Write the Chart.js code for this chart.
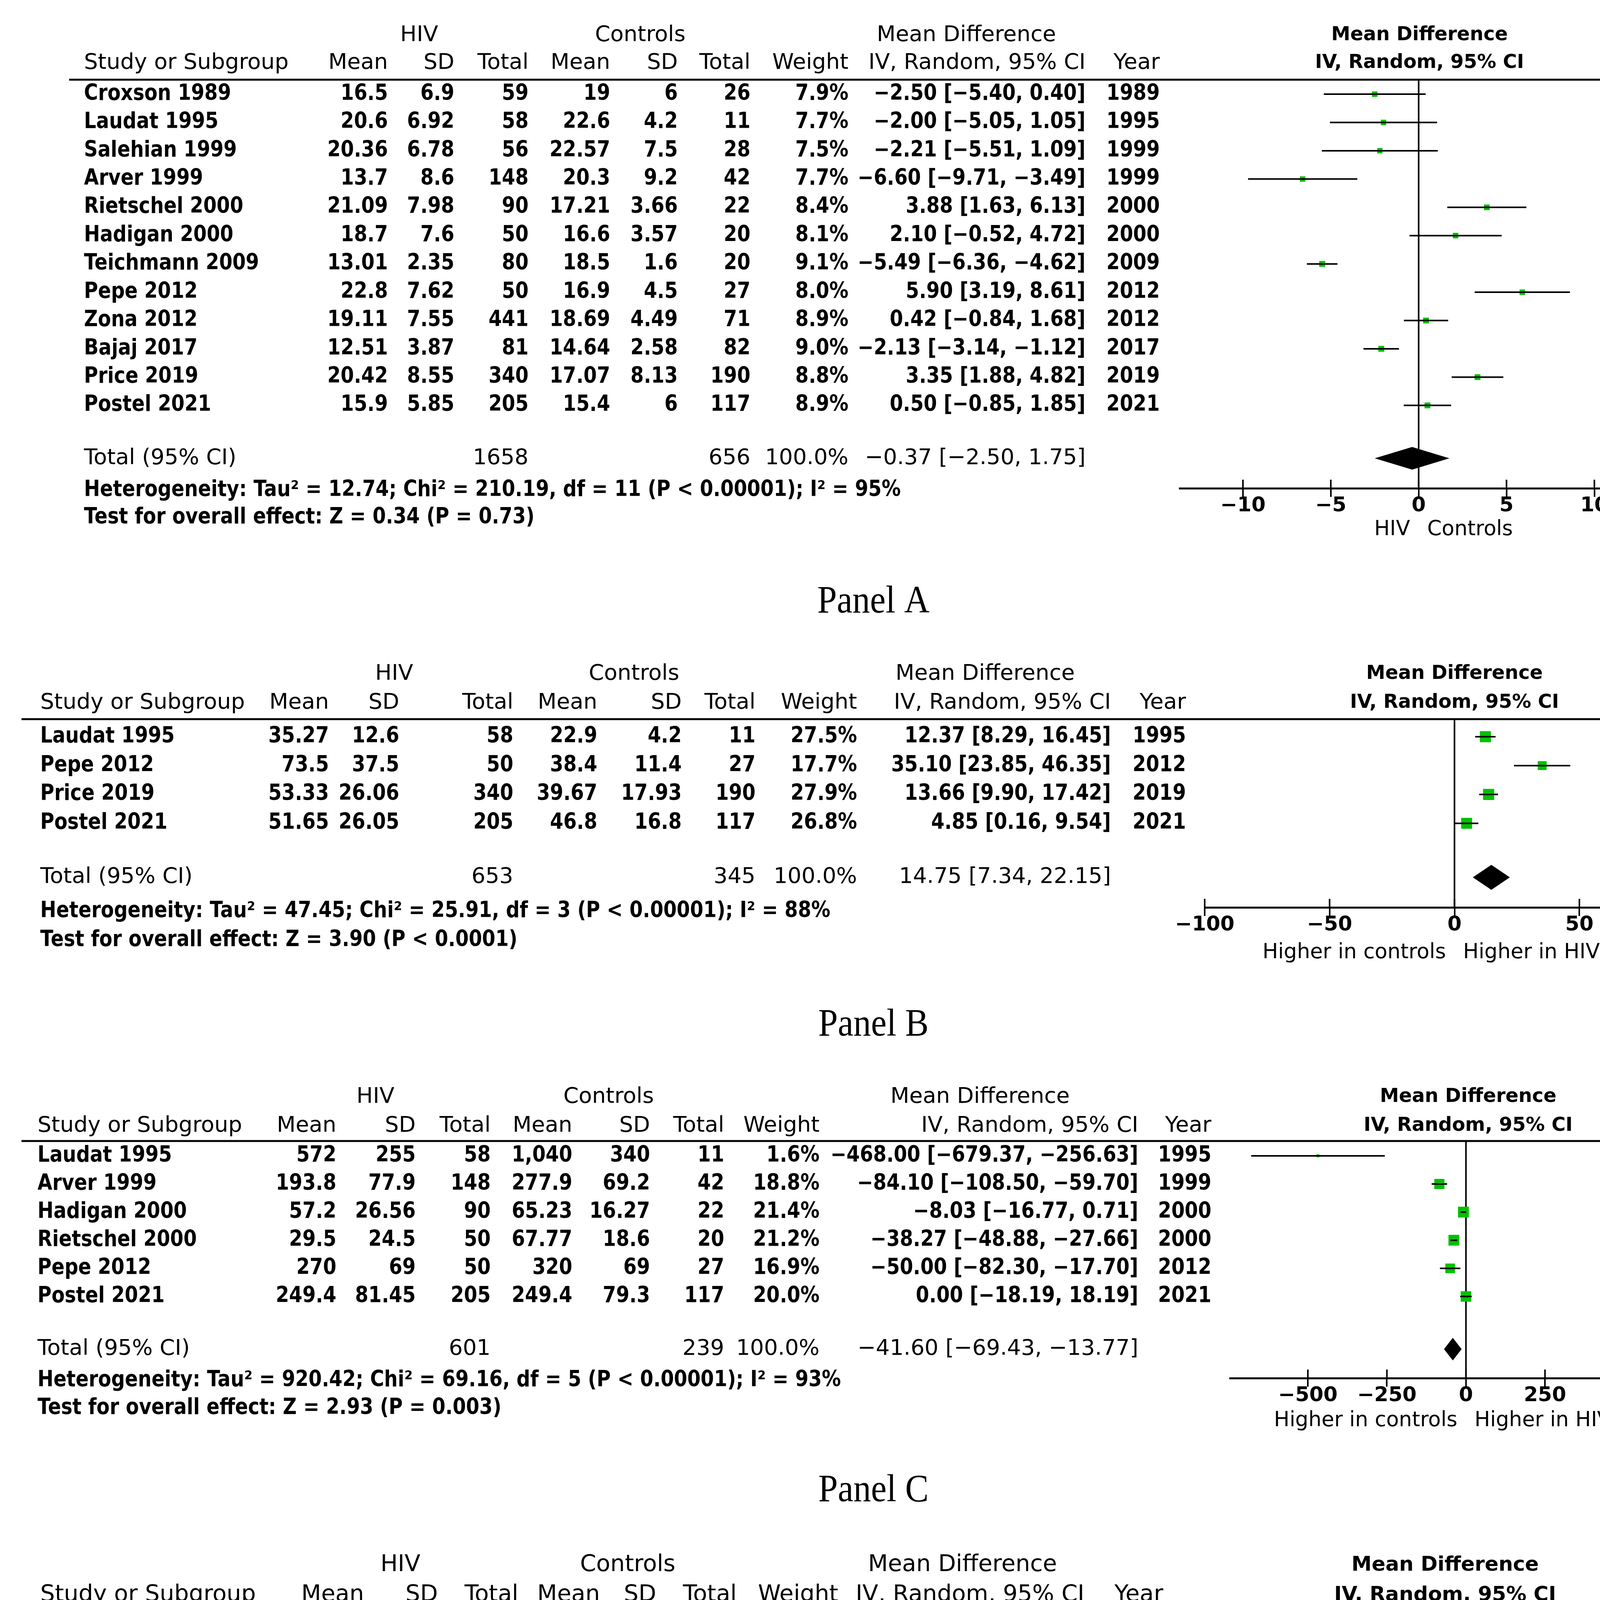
<!DOCTYPE html>
<html>
<head>
<meta charset="utf-8">
<script src="https://cdn.jsdelivr.net/npm/chart.js@4.4.1/dist/chart.umd.min.js"></script>
<style>
  html, body { margin: 0; padding: 0; background: #fff; }
  #wrap { position: relative; width: 4488px; height: 5032px; }
  canvas { position: absolute; left: 0; }
</style>
</head>
<body>
<div id="wrap">
  <canvas id="panelA"></canvas>
  <canvas id="panelB"></canvas>
  <canvas id="panelC"></canvas>
  <canvas id="panelD"></canvas>
</div>
<script>
// ---- Panel A ----
const studiesA = ['Croxson 1989', 'Laudat 1995', 'Salehian 1999', 'Arver 1999', 'Rietschel 2000', 'Hadigan 2000',
  'Teichmann 2009', 'Pepe 2012', 'Zona 2012', 'Bajaj 2017', 'Price 2019', 'Postel 2021'];
const hivMeanA = [16.5, 20.6, 20.36, 13.7, 21.09, 18.7, 13.01, 22.8, 19.11, 12.51, 20.42, 15.9];
const hivSdA = [6.9, 6.92, 6.78, 8.6, 7.98, 7.6, 2.35, 7.62, 7.55, 3.87, 8.55, 5.85];
const hivNA = [59, 58, 56, 148, 90, 50, 80, 50, 441, 81, 340, 205];
const ctlMeanA = [19, 22.6, 22.57, 20.3, 17.21, 16.6, 18.5, 16.9, 18.69, 14.64, 17.07, 15.4];
const ctlSdA = [6, 4.2, 7.5, 9.2, 3.66, 3.57, 1.6, 4.5, 4.49, 2.58, 8.13, 6];
const ctlNA = [26, 11, 28, 42, 22, 20, 20, 27, 71, 82, 190, 117];
const weightA = [7.9, 7.7, 7.5, 7.7, 8.4, 8.1, 9.1, 8.0, 8.9, 9.0, 8.8, 8.9];
const mdA = [-2.50, -2.00, -2.21, -6.60, 3.88, 2.10, -5.49, 5.90, 0.42, -2.13, 3.35, 0.50];
const loA = [-5.40, -5.05, -5.51, -9.71, 1.63, -0.52, -6.36, 3.19, -0.84, -3.14, 1.88, -0.85];
const hiA = [0.40, 1.05, 1.09, -3.49, 6.13, 4.72, -4.62, 8.61, 1.68, -1.12, 4.82, 1.85];
const yearA = [1989, 1995, 1999, 1999, 2000, 2000, 2009, 2012, 2012, 2017, 2019, 2021];
const totalNA = [1658, 656];
const pooledA = [-0.37, -2.50, 1.75];
const hetA = 'Heterogeneity: Tau² = 12.74; Chi² = 210.19, df = 11 (P < 0.00001); I² = 95%';
const testA = 'Test for overall effect: Z = 0.34 (P = 0.73)';
const ticksA = [-10, -5, 0, 5, 10];
const sidesA = ['HIV', 'Controls'];

// ---- Panel B ----
const studiesB = ['Laudat 1995', 'Pepe 2012', 'Price 2019', 'Postel 2021'];
const hivMeanB = [35.27, 73.5, 53.33, 51.65];
const hivSdB = [12.6, 37.5, 26.06, 26.05];
const hivNB = [58, 50, 340, 205];
const ctlMeanB = [22.9, 38.4, 39.67, 46.8];
const ctlSdB = [4.2, 11.4, 17.93, 16.8];
const ctlNB = [11, 27, 190, 117];
const weightB = [27.5, 17.7, 27.9, 26.8];
const mdB = [12.37, 35.10, 13.66, 4.85];
const loB = [8.29, 23.85, 9.90, 0.16];
const hiB = [16.45, 46.35, 17.42, 9.54];
const yearB = [1995, 2012, 2019, 2021];
const totalNB = [653, 345];
const pooledB = [14.75, 7.34, 22.15];
const hetB = 'Heterogeneity: Tau² = 47.45; Chi² = 25.91, df = 3 (P < 0.00001); I² = 88%';
const testB = 'Test for overall effect: Z = 3.90 (P < 0.0001)';
const ticksB = [-100, -50, 0, 50, 100];
const sidesB = ['Higher in controls', 'Higher in HIV'];

// ---- Panel C ----
const studiesC = ['Laudat 1995', 'Arver 1999', 'Hadigan 2000', 'Rietschel 2000', 'Pepe 2012', 'Postel 2021'];
const hivMeanC = [572, 193.8, 57.2, 29.5, 270, 249.4];
const hivSdC = [255, 77.9, 26.56, 24.5, 69, 81.45];
const hivNC = [58, 148, 90, 50, 50, 205];
const ctlMeanC = [1040, 277.9, 65.23, 67.77, 320, 249.4];
const ctlSdC = [340, 69.2, 16.27, 18.6, 69, 79.3];
const ctlNC = [11, 42, 22, 20, 27, 117];
const weightC = [1.6, 18.8, 21.4, 21.2, 16.9, 20.0];
const mdC = [-468.00, -84.10, -8.03, -38.27, -50.00, 0.00];
const loC = [-679.37, -108.50, -16.77, -48.88, -82.30, -18.19];
const hiC = [-256.63, -59.70, 0.71, -27.66, -17.70, 18.19];
const yearC = [1995, 1999, 2000, 2000, 2012, 2021];
const totalNC = [601, 239];
const pooledC = [-41.60, -69.43, -13.77];
const hetC = 'Heterogeneity: Tau² = 920.42; Chi² = 69.16, df = 5 (P < 0.00001); I² = 93%';
const testC = 'Test for overall effect: Z = 2.93 (P = 0.003)';
const ticksC = [-500, -250, 0, 250, 500];
const sidesC = ['Higher in controls', 'Higher in HIV'];

// ---- Panel D ----
const studiesD = ['Croxson 1989', 'Laudat 1995', 'Salehian 1999', 'Teichmann 2009'];
const hivMeanD = [13.78, 5.54, 5.52, 3.38];
const hivSdD = [6.52, 3.88, 2.8, 2.42];
const hivND = [59, 58, 56, 80];
const ctlMeanD = [12, 4.7, 4.8, 3.6];
const ctlSdD = [5, 2.8, 2.5, 2.6];
const ctlND = [26, 11, 28, 20];
const weightD = [8.7, 15.1, 40.4, 35.7];
const mdD = [1.78, 0.84, 0.72, -0.22];
const loD = [-0.76, -1.09, -0.46, -1.48];
const hiD = [4.32, 2.77, 1.90, 1.04];
const yearD = [1989, 1995, 1999, 2009];
const totalND = [253, 85];
const pooledD = [0.49, -0.26, 1.25];
const hetD = 'Heterogeneity: Tau² = 0.00; Chi² = 2.49, df = 3 (P = 0.48); I² = 0%';
const testD = 'Test for overall effect: Z = 1.29 (P = 0.20)';
const ticksD = [-4, -2, 0, 2, 4];
const sidesD = ['Higher in controls', 'Higher in HIV'];

const FONT = '"DejaVu Sans", Verdana, sans-serif';
const AXIS_H = 130;
const STRETCH = 1.15; // the bold table text is a bit taller than DejaVu

// layout of each panel (pixels, y relative to the panel top)
const layouts = {
  A: { top: 0, h: 1650, xMin: -13.6, xMax: 13.7, xLeft: 3020, xRight: 4248, lineY: 204, row0: 241, sp: 72.44,
       axisY: 1250, h1: 90, h2: 161, het: 1255, test: 1325, side: 106, cap: 1542, hx: [177, 4299],
       study: 215, cols: [993, 1163, 1353, 1562, 1735, 1921, 2172, 2779, 2969], groups: [1073, 1639, 2474],
       fs: 49, fh: 56, fa: 53, ft: 52, k: 5.0, dh: 29 },
  B: { top: 1650, h: 1100, xMin: -100, xMax: 100, xLeft: 3084, xRight: 4363, lineY: 191, row0: 236, sp: 73.9,
       axisY: 673, h1: 75, h2: 149, het: 683, test: 757, side: 116, cap: 975, hx: [55, 4411],
       study: 103, cols: [842, 1022, 1314, 1529, 1745, 1934, 2194, 2844, 3036], groups: [1009, 1623, 2522],
       fs: 49, fh: 56, fa: 53, ft: 52, k: 5.4, dh: 32 },
  C: { top: 2750, h: 1150, xMin: -746, xMax: 760, xLeft: 3149, xRight: 4368, lineY: 171, row0: 209, sp: 72.0,
       axisY: 778, h1: 58, h2: 132, het: 784, test: 855, side: 109, cap: 1067, hx: [55, 4411],
       study: 96, cols: [861, 1064, 1256, 1465, 1664, 1854, 2098, 2914, 3101], groups: [961, 1558, 2509],
       fs: 49, fh: 56, fa: 53, ft: 52, k: 6.0, dh: 29 },
  D: { top: 3900, h: 1132, xMin: -4.57, xMax: 4.59, xLeft: 3036, xRight: 4363, lineY: 225, row0: 270, sp: 78.1,
       axisY: 733, h1: 107, h2: 184, het: 736, test: 817, side: 113, cap: 1032, hx: [55, 4411],
       study: 103, cols: [932, 1121, 1327, 1536, 1680, 1886, 2146, 2776, 2978], groups: [1025, 1607, 2464],
       fs: 52, fh: 59, fa: 56, ft: 54, k: 6.4, dh: 33 }
};

function fmt(v) {
  return v.toLocaleString('en-US', { maximumFractionDigits: 2 }).replace('-', '−');
}
function fix2(v) {
  return v.toFixed(2).replace('-', '−');
}
function ci(m, l, h) {
  return fix2(m) + ' [' + fix2(l) + ', ' + fix2(h) + ']';
}

function tablePlugin(p) {
  const L = p.lay;
  return {
    id: 'table' + p.id,
    beforeDatasetsDraw(chart) {
      const { ctx, chartArea: a, scales: { x } } = chart;
      const x0 = x.getPixelForValue(0);
      ctx.save();
      ctx.strokeStyle = '#000';
      ctx.lineWidth = 4;
      ctx.beginPath();
      ctx.moveTo(x0, a.top);
      ctx.lineTo(x0, a.bottom);
      ctx.stroke();
      ctx.restore();
    },
    afterDraw(chart) {
      const { ctx, chartArea: a, scales: { x, y } } = chart;
      const n = p.studies.length;
      ctx.save();
      ctx.fillStyle = '#000';
      ctx.strokeStyle = '#000';

      // line under the column headings
      ctx.lineWidth = 5;
      ctx.beginPath();
      ctx.moveTo(L.hx[0], a.top);
      ctx.lineTo(L.hx[1], a.top);
      ctx.stroke();

      // upper half of the axis ticks
      ctx.lineWidth = 4;
      p.ticks.forEach(v => {
        const px = x.getPixelForValue(v);
        ctx.beginPath();
        ctx.moveTo(px, a.bottom - 22);
        ctx.lineTo(px, a.bottom);
        ctx.stroke();
      });

      // pooled diamond
      const ty = y.getPixelForValue(n + 0.87);
      ctx.beginPath();
      ctx.moveTo(x.getPixelForValue(p.pooled[1]), ty);
      ctx.lineTo(x.getPixelForValue(p.pooled[0]), ty - L.dh);
      ctx.lineTo(x.getPixelForValue(p.pooled[2]), ty);
      ctx.lineTo(x.getPixelForValue(p.pooled[0]), ty + L.dh);
      ctx.closePath();
      ctx.fill();

      ctx.textBaseline = 'middle';
      const put = (s, px, py, align, font, sy) => {
        ctx.save();
        ctx.font = font;
        ctx.textAlign = align;
        ctx.translate(px, py);
        ctx.scale(1, sy || 1);
        ctx.fillText(s, 0, 0);
        ctx.restore();
      };
      const fHead = 'normal ' + L.fh + 'px ' + FONT;
      const fData = 'bold ' + L.fs + 'px ' + FONT;
      const fAxis = 'normal ' + L.fa + 'px ' + FONT;
      const c = L.cols;
      const mid = (a.left + a.right) / 2;

      // headings
      put('HIV', L.groups[0], L.h1, 'center', fHead);
      put('Controls', L.groups[1], L.h1, 'center', fHead);
      put('Mean Difference', L.groups[2], L.h1, 'center', fHead);
      put('Study or Subgroup', L.study, L.h2, 'left', fHead);
      ['Mean', 'SD', 'Total', 'Mean', 'SD', 'Total', 'Weight', 'IV, Random, 95% CI', 'Year']
        .forEach((s, j) => put(s, c[j], L.h2, 'right', fHead));
      put('Mean Difference', mid, L.h1, 'center', fData);
      put('IV, Random, 95% CI', mid, L.h2, 'center', fData);

      // study rows
      p.studies.forEach((s, i) => {
        const py = y.getPixelForValue(i);
        put(s, L.study, py, 'left', fData, STRETCH);
        const cells = [fmt(p.hivMean[i]), fmt(p.hivSd[i]), String(p.hivN[i]),
          fmt(p.ctlMean[i]), fmt(p.ctlSd[i]), String(p.ctlN[i]),
          p.weight[i].toFixed(1) + '%', ci(p.md[i], p.lo[i], p.hi[i]), String(p.year[i])];
        cells.forEach((t, j) => put(t, c[j], py, 'right', fData, STRETCH));
      });

      // total row
      put('Total (95% CI)', L.study, ty, 'left', fHead);
      put(String(p.totalN[0]), c[2], ty, 'right', fHead);
      put(String(p.totalN[1]), c[5], ty, 'right', fHead);
      put('100.0%', c[6], ty, 'right', fHead);
      put(ci(p.pooled[0], p.pooled[1], p.pooled[2]), c[7], ty, 'right', fHead);

      put(p.het, L.study, L.het, 'left', fData, STRETCH);
      put(p.test, L.study, L.test, 'left', fData, STRETCH);

      // direction labels under the axis
      const x0 = x.getPixelForValue(0);
      put(p.sides[0], x0 - 22, a.bottom + L.side, 'right', fAxis);
      put(p.sides[1], x0 + 22, a.bottom + L.side, 'left', fAxis);

      // caption
      put('Panel ' + p.id, 2236, L.cap, 'center', 'normal 90px "Liberation Serif", "Times New Roman", serif', 1.1);
      ctx.restore();
    }
  };
}

function makeChart(p) {
  const L = p.lay;
  const canvas = document.getElementById('panel' + p.id);
  canvas.width = 4488;
  canvas.height = L.h;
  canvas.style.top = L.top + 'px';
  const yMin = -(L.row0 - L.lineY) / L.sp;
  const yMax = (L.axisY - L.row0) / L.sp;

  // confidence interval whiskers
  const datasets = p.lo.map((lo, i) => ({
    type: 'scatter',
    data: [{ x: lo, y: i }, { x: p.hi[i], y: i }],
    showLine: true,
    borderColor: '#000',
    borderWidth: 4,
    pointRadius: 0,
    fill: false
  }));
  // study estimates, square area follows the weight
  datasets.push({
    type: 'scatter',
    data: p.md.map((m, i) => ({ x: m, y: i })),
    pointStyle: 'rect',
    pointRadius: p.weight.map(w => L.k * Math.sqrt(w) / (2 * Math.SQRT1_2)),
    backgroundColor: '#00c000',
    borderWidth: 0
  });

  return new Chart(canvas, {
    type: 'scatter',
    data: { datasets },
    options: {
      responsive: false,
      animation: false,
      devicePixelRatio: 1,
      events: [],
      layout: { padding: { left: L.xLeft, right: 4488 - L.xRight, top: L.lineY, bottom: L.h - L.axisY - AXIS_H } },
      plugins: { legend: { display: false }, tooltip: { enabled: false } },
      scales: {
        x: {
          type: 'linear',
          position: 'bottom',
          min: L.xMin,
          max: L.xMax,
          afterBuildTicks: s => { s.ticks = p.ticks.map(v => ({ value: v })); },
          afterFit: s => { s.height = AXIS_H; },
          grid: { drawOnChartArea: false, drawTicks: true, tickLength: 22, color: '#000', lineWidth: 4 },
          border: { display: true, color: '#000', width: 5 },
          ticks: {
            color: '#000',
            padding: -8,
            maxRotation: 0,
            autoSkip: false,
            font: { family: FONT, size: L.ft, weight: 'bold' },
            callback: v => String(v).replace('-', '−')
          }
        },
        y: { type: 'linear', display: false, reverse: true, min: yMin, max: yMax }
      }
    },
    plugins: [tablePlugin(p)]
  });
}

const panels = [
  { id: 'A', studies: studiesA, hivMean: hivMeanA, hivSd: hivSdA, hivN: hivNA, ctlMean: ctlMeanA, ctlSd: ctlSdA, ctlN: ctlNA,
    weight: weightA, md: mdA, lo: loA, hi: hiA, year: yearA, totalN: totalNA, pooled: pooledA, het: hetA, test: testA,
    ticks: ticksA, sides: sidesA, lay: layouts.A },
  { id: 'B', studies: studiesB, hivMean: hivMeanB, hivSd: hivSdB, hivN: hivNB, ctlMean: ctlMeanB, ctlSd: ctlSdB, ctlN: ctlNB,
    weight: weightB, md: mdB, lo: loB, hi: hiB, year: yearB, totalN: totalNB, pooled: pooledB, het: hetB, test: testB,
    ticks: ticksB, sides: sidesB, lay: layouts.B },
  { id: 'C', studies: studiesC, hivMean: hivMeanC, hivSd: hivSdC, hivN: hivNC, ctlMean: ctlMeanC, ctlSd: ctlSdC, ctlN: ctlNC,
    weight: weightC, md: mdC, lo: loC, hi: hiC, year: yearC, totalN: totalNC, pooled: pooledC, het: hetC, test: testC,
    ticks: ticksC, sides: sidesC, lay: layouts.C },
  { id: 'D', studies: studiesD, hivMean: hivMeanD, hivSd: hivSdD, hivN: hivND, ctlMean: ctlMeanD, ctlSd: ctlSdD, ctlN: ctlND,
    weight: weightD, md: mdD, lo: loD, hi: hiD, year: yearD, totalN: totalND, pooled: pooledD, het: hetD, test: testD,
    ticks: ticksD, sides: sidesD, lay: layouts.D }
];

panels.forEach(makeChart);
</script>
</body>
</html>
